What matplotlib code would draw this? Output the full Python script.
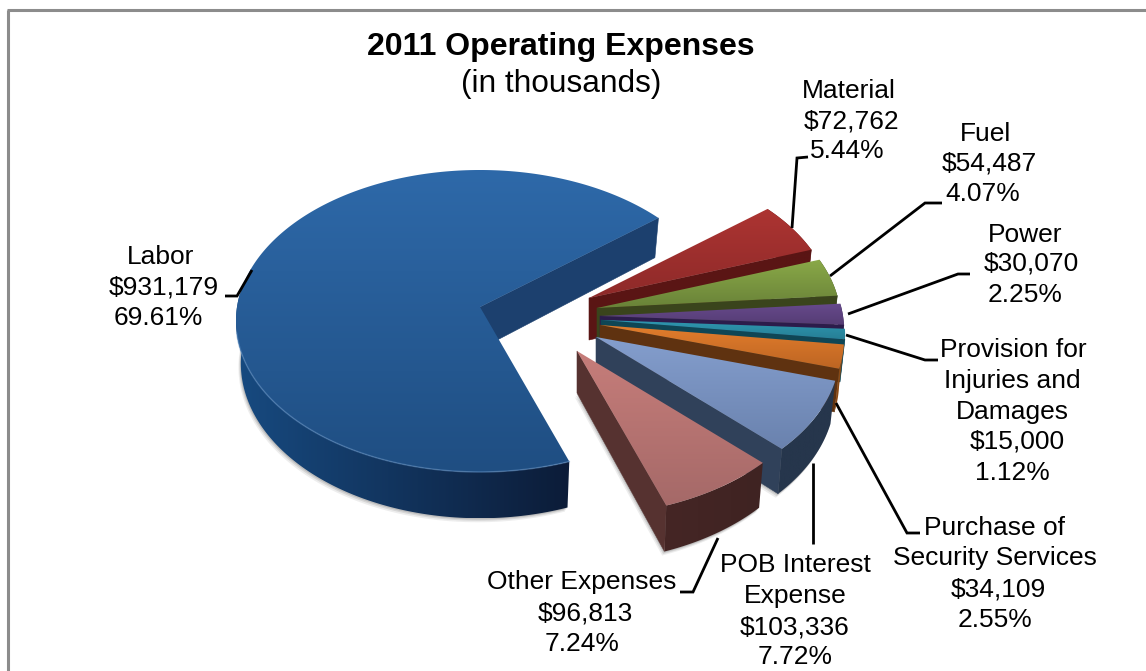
import numpy as np
import matplotlib
matplotlib.use('Agg')
import matplotlib.pyplot as plt
from matplotlib.patches import Polygon

plt.rcParams['font.family'] = ['Liberation Sans', 'DejaVu Sans']

# Dados do grafico (ordem horaria a partir de Labor)
categories = ['Labor', 'Material', 'Fuel', 'Power', 'Provision for Injuries and Damages',
              'Purchase of Security Services', 'POB Interest Expense', 'Other Expenses']
amounts = ['$931,179', '$72,762', '$54,487', '$30,070', '$15,000', '$34,109', '$103,336', '$96,813']
percents = [69.61, 5.44, 4.07, 2.25, 1.12, 2.55, 7.72, 7.24]

# Geometria da pizza 3D (pixels)
R = 243.0
RY = 149.7
P = 0.0926
DEPTH = 42.0
K = 0.98
START = 39.0
apex = [(480, 307), (589, 298), (597, 308), (600, 316), (601, 320), (600, 325), (596, 337), (577, 351)]

# top1, top2, radial wall, arc wall 1, arc wall 2
colors = [
    ('#2e69a9', '#1f4e82', '#1c406e', '#174a80', '#0c1c38'),
    ('#ad3432', '#8e2a29', '#5a1514', '#5a1514', '#5a1514'),
    ('#8aa948', '#698238', '#3a441c', '#3a441c', '#3a441c'),
    ('#674a8c', '#553c74', '#2c1c4b', '#2c1c4b', '#2c1c4b'),
    ('#2f98b1', '#267f96', '#0f4655', '#0f4655', '#0f4655'),
    ('#e27d2c', '#bd6523', '#5f3210', '#8a4a16', '#8a4a16'),
    ('#849ecd', '#6a82ae', '#30415a', '#26364c', '#26364c'),
    ('#c67d7a', '#a56968', '#563230', '#452625', '#3f2322'),
]

# Rotulos: (x central, y central, texto) linha por linha
labels = {
    0: [(161, 257, 'Labor'), (164, 287, None), (158, 318, None)],
    1: [(849, 91, 'Material'), (852, 121, None), (847, 151, None)],
    2: [(985, 134, 'Fuel'), (989, 164, None), (983, 194, None)],
    3: [(1025, 235, 'Power'), (1031, 264, None), (1025, 295, None)],
    4: [(1013, 350, 'Provision for'), (1012, 381, 'Injuries and'), (1012, 412, 'Damages'),
        (1017, 442, None), (1012, 473, None)],
    5: [(995, 528, 'Purchase of'), (995, 558, 'Security Services'), (998, 589, None), (995, 620, None)],
    6: [(795, 565, 'POB Interest'), (795, 596, 'Expense'), (795, 627, None), (795, 657, None)],
    7: [(582, 582, 'Other Expenses'), (585, 613, None), (582, 644, None)],
}

leaders = [
    [(252, 270), (237, 296), (225, 296)],
    [(792, 228), (797, 158), (808, 157)],
    [(830, 276), (925, 203), (942, 203)],
    [(848, 314), (958, 274), (970, 274)],
    [(846, 335), (925, 360), (938, 360)],
    [(836, 403), (907, 533), (920, 533)],
    [(813, 463), (813, 544)],
    [(718, 538), (693, 592), (680, 592)],
]


def project(cx, cy, theta):
    t = np.radians(theta)
    v = -np.sin(t)
    s = 1.0 / (1.0 - P * v)
    return cx + R * np.cos(t) * s, cy + RY * v * s, s


def lower(cx, x, y, s):
    return cx + (x - cx) * K, y + DEPTH * s


def gradient(ax, pts, c1, c2, vertical, z):
    pts = np.asarray(pts)
    rgb1 = np.array(matplotlib.colors.to_rgb(c1))
    rgb2 = np.array(matplotlib.colors.to_rgb(c2))
    f = np.linspace(0, 1, 128)[:, None]
    grad = rgb1 * (1 - f) + rgb2 * f
    grad = grad[:, None, :] if vertical else grad[None, :, :]
    x0, x1 = pts[:, 0].min(), pts[:, 0].max()
    y0, y1 = pts[:, 1].min(), pts[:, 1].max()
    im = ax.imshow(grad, extent=[x0, x1, y1, y0], aspect='auto', zorder=z)
    clip = Polygon(pts, closed=True, fc='none', ec='none', transform=ax.transData)
    ax.add_patch(clip)
    im.set_clip_path(clip)


fig = plt.figure(figsize=(11.46, 6.71), dpi=100)
ax = fig.add_axes([0, 0, 1, 1])
ax.axis('off')

z = 2
angle = START
for i, pct in enumerate(percents):
    sweep = pct * 3.6
    cx, cy = apex[i]
    if i == 0:
        # Labor vai no sentido anti-horario a partir de START
        th = np.linspace(START, START + sweep, 240)
        wall_th = np.linspace(175, START + sweep, 120)
        front_edge = START
    else:
        th = np.linspace(angle, angle - sweep, 60)
        wall_th = th
        front_edge = angle - sweep
        angle -= sweep
    x, y, s = project(cx, cy, th)
    ax_, ay_, as_ = project(cx, cy, wall_th)
    bx, by = lower(cx, ax_, ay_, as_)
    top = [(cx, cy)] + list(zip(x, y))
    arc = list(zip(ax_, ay_)) + list(zip(bx[::-1], by[::-1]))

    # sombra suave
    if i in (0, 6, 7):
        for off, a in ((4, 0.10), (2.5, 0.15), (1.2, 0.2)):
            sh = np.array(list(zip(bx, by)) + [(cx, cy + DEPTH)]) + [-off * 0.6, off]
            ax.add_patch(Polygon(sh, closed=True, fc='#555555', ec='none', alpha=a, zorder=z))
        z += 1

    # parede radial
    ex, ey, es = project(cx, cy, front_edge)
    ebx, eby = lower(cx, ex, ey, es)
    wall = [(cx, cy), (ex, ey), (ebx, eby), (cx, cy + DEPTH)]
    ax.add_patch(Polygon(wall, closed=True, fc=colors[i][2], ec=colors[i][2], lw=0.4, zorder=z))
    z += 1
    # parede do arco
    gradient(ax, arc, colors[i][3], colors[i][4], False, z)
    z += 1
    # face superior
    gradient(ax, top, colors[i][0], colors[i][1], True, z)
    z += 1
    if i == 0:
        tr = np.linspace(190, START + sweep, 120)
        rx, ry, _ = project(cx, cy, tr)
        ax.plot(rx, ry, color='#5f8fc4', lw=1.1, alpha=0.5, zorder=z)
        z += 1

# Linhas de chamada
for line in leaders:
    xs, ys = zip(*line)
    ax.plot(xs, ys, color='black', lw=2.0, solid_capstyle='butt', solid_joinstyle='miter', zorder=z)

# Rotulos
for i, lines in labels.items():
    values = [amounts[i], '%.2f%%' % percents[i]]
    n = 0
    for lx, ly, txt in lines:
        if txt is None:
            txt = values[n]
            n += 1
        ax.text(lx, ly, txt, fontsize=19, color='black', ha='center', va='center', zorder=z + 1)

ax.text(561, 47, '2011 Operating Expenses', fontsize=23, fontweight='bold', ha='center', va='center', zorder=z + 1)
ax.text(561, 84, '(in thousands)', fontsize=22.8, ha='center', va='center', zorder=z + 1)

# Moldura
ax.plot([8, 8], [671, 10], color='#8c8c8c', lw=2.2, solid_capstyle='butt', zorder=z)
ax.plot([7, 1146], [10, 10], color='#8c8c8c', lw=2.2, solid_capstyle='butt', zorder=z)

ax.set_xlim(0, 1146)
ax.set_ylim(671, 0)
fig.savefig('out.png', dpi=100)
